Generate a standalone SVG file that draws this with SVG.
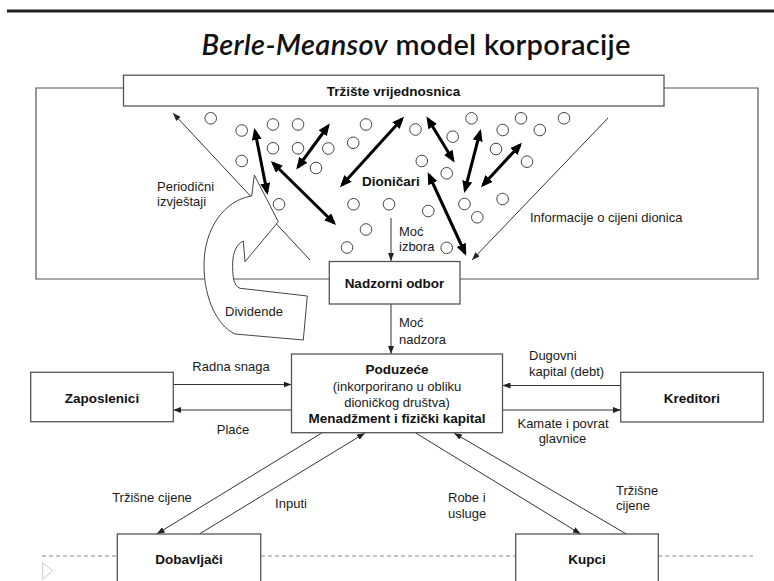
<svg xmlns="http://www.w3.org/2000/svg" width="774" height="581" viewBox="0 0 774 581">
<defs>
<style>
text{font-family:"Liberation Sans",Arial,sans-serif;font-size:13px;fill:#1a1a1a}
.b{font-weight:bold;font-size:13.5px;fill:#111}
.m{text-anchor:middle}
.box{fill:#fff;stroke:#555;stroke-width:1.3}
.ln{fill:none;stroke:#333;stroke-width:1}
.fr{fill:none;stroke:#555;stroke-width:1.2}
.thk{fill:none;stroke:#000;stroke-width:3;marker-start:url(#bh);marker-end:url(#bh)}
.c{fill:#fff;stroke:#444;stroke-width:1}
</style>
<marker id="ah" markerUnits="userSpaceOnUse" markerWidth="8" markerHeight="6" refX="8" refY="3" orient="auto"><path d="M0,0 L8,3 L0,6 z" fill="#222"/></marker>
<marker id="bh" markerUnits="userSpaceOnUse" markerWidth="12" markerHeight="10" refX="9" refY="5" orient="auto-start-reverse"><path d="M0,0 L12,5 L0,10 z" fill="#000"/></marker>
</defs>
<rect x="7" y="9.5" width="767" height="3" fill="#222"/>
<text id="title" x="416" y="55" class="m" style="font-family:Lato,'Liberation Sans',sans-serif;font-size:29px;font-weight:600;fill:#111" textLength="429"><tspan font-style="italic">Berle-Meansov</tspan> model korporacije</text>

<g id="connectors">
<polyline class="fr" points="124,88 36,88 36,279 329,279"/>
<polyline class="fr" points="664,88 758,88 758,279 460,279"/>
<line class="ln" x1="310" y1="260" x2="173" y2="113" marker-end="url(#ah)"/>
<line class="ln" x1="608" y1="118" x2="472" y2="260" stroke="#555" marker-end="url(#ah)"/>
<line class="ln" x1="391" y1="218" x2="391" y2="261" marker-end="url(#ah)"/>
<line class="ln" x1="391" y1="304" x2="391" y2="354" marker-end="url(#ah)"/>
<line class="ln" x1="173.3" y1="384.5" x2="291.5" y2="384.5" marker-end="url(#ah)"/>
<line class="ln" x1="291.5" y1="410" x2="173.3" y2="410" marker-end="url(#ah)"/>
<line class="ln" x1="620.7" y1="385.5" x2="502.5" y2="385.5" marker-end="url(#ah)"/>
<line class="ln" x1="502.5" y1="410" x2="620.7" y2="410" marker-end="url(#ah)"/>
<line class="ln" x1="321.7" y1="433" x2="156.7" y2="534" marker-end="url(#ah)"/>
<line class="ln" x1="199.3" y1="534" x2="365" y2="433" marker-end="url(#ah)"/>
<line class="ln" x1="415.7" y1="433" x2="580.7" y2="534" marker-end="url(#ah)"/>
<line class="ln" x1="626.3" y1="534" x2="454" y2="433" marker-end="url(#ah)"/>
<line class="thk" x1="255" y1="131" x2="267" y2="192"/>
<line class="thk" x1="328" y1="126" x2="298" y2="167"/>
<line class="thk" x1="273" y1="163" x2="334" y2="223"/>
<line class="thk" x1="402" y1="119" x2="342" y2="185"/>
<line class="thk" x1="428" y1="119" x2="453" y2="160"/>
<line class="thk" x1="480" y1="132" x2="465" y2="190"/>
<line class="thk" x1="520" y1="145" x2="483" y2="185"/>
<line class="thk" x1="429" y1="175" x2="465" y2="253"/>
<g stroke="#888" stroke-width="1" stroke-dasharray="4 3" fill="none">
<line x1="42" y1="556" x2="117" y2="556"/>
<line x1="261" y1="556" x2="515.7" y2="556"/>
<line x1="658.3" y1="556" x2="753" y2="556"/>
</g>
</g>

<g id="dividende">
<path d="M251.7,196 C225,200 204,228 204,265 C204,300 218,326 235,334 L303.3,340 L307.3,296 L240,288.3 C233,286 232.5,275 232.7,263 C232.8,252 237,244 243.3,241 L245,261.7 L278.3,221.7 L254.3,175 Z" fill="#fff" stroke="#444" stroke-width="1"/>
<text x="254" y="316" class="m">Dividende</text>
</g>

<g id="shareholders">
<g class="circles">
<circle class="c" cx="210.7" cy="118.3" r="5.8"/>
<circle class="c" cx="241.7" cy="130.5" r="5.8"/>
<circle class="c" cx="273" cy="124.5" r="5.8"/>
<circle class="c" cx="298" cy="124.5" r="5.8"/>
<circle class="c" cx="366" cy="124.5" r="5.8"/>
<circle class="c" cx="273" cy="148.3" r="5.8"/>
<circle class="c" cx="298" cy="148.3" r="5.8"/>
<circle class="c" cx="328.3" cy="148.5" r="5.8"/>
<circle class="c" cx="353.2" cy="142.8" r="5.8"/>
<circle class="c" cx="241.7" cy="161" r="5.8"/>
<circle class="c" cx="316" cy="168" r="5.8"/>
<circle class="c" cx="279" cy="204.3" r="5.8"/>
<circle class="c" cx="353.5" cy="204.3" r="5.8"/>
<circle class="c" cx="389" cy="204.3" r="5.8"/>
<circle class="c" cx="366" cy="229.5" r="5.8"/>
<circle class="c" cx="347" cy="247.5" r="5.8"/>
<circle class="c" cx="415.5" cy="129.5" r="5.8"/>
<circle class="c" cx="452.7" cy="136.7" r="5.8"/>
<circle class="c" cx="471.5" cy="118.3" r="5.8"/>
<circle class="c" cx="502.7" cy="130" r="5.8"/>
<circle class="c" cx="521" cy="118.3" r="5.8"/>
<circle class="c" cx="539.8" cy="130" r="5.8"/>
<circle class="c" cx="564" cy="118.3" r="5.8"/>
<circle class="c" cx="421.8" cy="161" r="5.8"/>
<circle class="c" cx="446.7" cy="173.3" r="5.8"/>
<circle class="c" cx="496" cy="149" r="5.8"/>
<circle class="c" cx="527" cy="161.7" r="5.8"/>
<circle class="c" cx="428.3" cy="211" r="5.8"/>
<circle class="c" cx="464.5" cy="204" r="5.8"/>
<circle class="c" cx="477.3" cy="217.3" r="5.8"/>
<circle class="c" cx="502.6" cy="199" r="5.8"/>
<circle class="c" cx="446.7" cy="247.8" r="5.8"/>
</g>
<text x="391" y="185.5" class="b m">Dioničari</text>
</g>

<g id="labels">
<text x="157" y="191">Periodični</text>
<text x="157" y="206">izvještaji</text>
<text x="530" y="221.5">Informacije o cijeni dionica</text>
<text x="399" y="235.5">Moć</text>
<text x="399" y="251">izbora</text>
<text x="399" y="327">Moć</text>
<text x="399" y="344">nadzora</text>
<text x="231" y="371" class="m">Radna snaga</text>
<text x="233" y="433.5" class="m">Plaće</text>
<text x="529" y="359.5">Dugovni</text>
<text x="529" y="375.5">kapital (debt)</text>
<text x="563" y="428" class="m">Kamate i povrat</text>
<text x="562.5" y="443" class="m">glavnice</text>
<text x="152" y="502" class="m">Tržišne cijene</text>
<text x="291" y="508" class="m">Inputi</text>
<text x="448" y="502">Robe i</text>
<text x="448" y="518">usluge</text>
<text x="616" y="495">Tržišne</text>
<text x="616" y="510">cijene</text>
</g>

<g id="market">
<rect class="box" x="123.5" y="75.2" width="540.5" height="30.8"/>
<text x="393.5" y="96" class="b m">Tržište vrijednosnica</text>
</g>
<g id="board">
<rect class="box" x="329.3" y="261.5" width="130.7" height="42.5"/>
<text x="394.5" y="288" class="b m">Nadzorni odbor</text>
</g>
<g id="company">
<rect class="box" x="291.5" y="354" width="211" height="78.7"/>
<text x="397" y="374" class="b m">Poduzeće</text>
<text x="397" y="391" class="m">(inkorporirano u obliku</text>
<text x="397" y="407" class="m">dioničkog društva)</text>
<text x="397" y="422.5" class="b m">Menadžment i fizički kapital</text>
</g>
<g id="employees">
<rect class="box" x="30.7" y="372.3" width="142.6" height="49.4"/>
<text x="102" y="403" class="b m">Zaposlenici</text>
</g>
<g id="creditors">
<rect class="box" x="620.7" y="372.3" width="142.6" height="49.7"/>
<text x="692" y="403" class="b m">Kreditori</text>
</g>
<g id="suppliers">
<rect class="box" x="117.3" y="534" width="143.4" height="60"/>
<text x="189" y="564" class="b m">Dobavljači</text>
</g>
<g id="customers">
<rect class="box" x="515.7" y="534" width="142.6" height="60"/>
<text x="587" y="564" class="b m">Kupci</text>
</g>
<polygon points="42.7,562.7 52.7,570.7 42.7,579.3" fill="none" stroke="#ccc" stroke-width="1"/>
</svg>
